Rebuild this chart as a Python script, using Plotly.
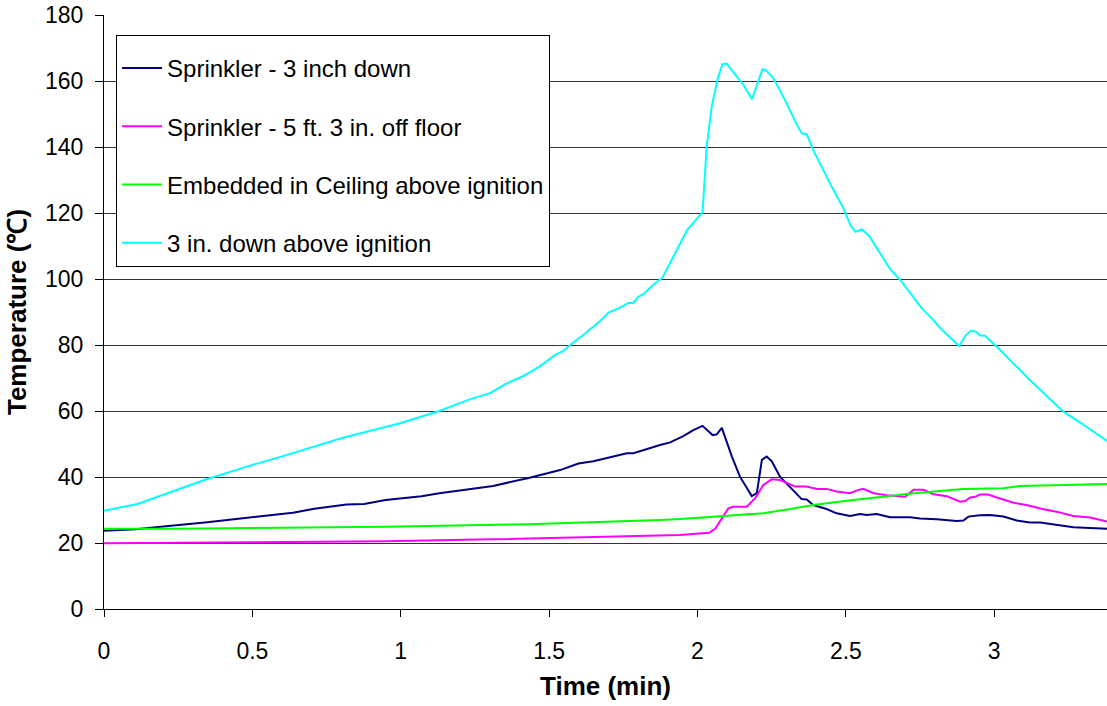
import plotly.graph_objects as go

# ---- data ----
cyan_t = [0, 0.113, 0.336, 0.486, 0.606, 0.805, 0.998, 1.13, 1.234, 1.301, 1.351, 1.413, 1.47, 1.52,
          1.548, 1.571, 1.621, 1.649, 1.672, 1.70, 1.739, 1.767, 1.784, 1.80, 1.818, 1.85, 1.882, 1.919,
          1.966, 2.017, 2.031, 2.048, 2.067, 2.084, 2.099, 2.12, 2.155, 2.184, 2.219, 2.233, 2.256, 2.295,
          2.335, 2.352, 2.368, 2.39, 2.452, 2.492, 2.516, 2.533, 2.554, 2.579, 2.615, 2.649, 2.683, 2.728,
          2.756, 2.784, 2.818, 2.851, 2.882, 2.902, 2.919, 2.936, 2.952, 2.969, 3.014, 3.12, 3.19, 3.233,
          3.29, 3.38]
cyan_v = [29.8, 31.8, 39.0, 43.3, 46.4, 51.9, 56.3, 60.0, 63.6, 65.4, 68.1, 70.6, 73.6, 77.0,
          78.2, 80.0, 83.5, 85.5, 87.3, 89.8, 91.3, 92.7, 92.7, 94.6, 95.4, 98.2, 100.4, 106.8,
          115.0, 120.2, 140.1, 152.2, 160.3, 165.1, 165.2, 162.8, 158.8, 154.5, 163.6, 163.1, 160.8, 154.2,
          146.7, 144.1, 143.9, 139.1, 128.0, 121.4, 116.2, 114.3, 115.0, 113.0, 107.8, 103.0, 99.7, 94.6,
          91.1, 88.6, 85.1, 82.3, 79.7, 82.7, 84.2, 84.2, 82.9, 82.8, 79.0, 69.4, 63.3, 59.8,
          56.5, 50.9]

navy_t = [0, 0.107, 0.191, 0.287, 0.348, 0.468, 0.564, 0.637, 0.709, 0.817, 0.877, 0.949, 1.07, 1.13,
          1.311, 1.431, 1.537, 1.599, 1.649, 1.717, 1.762, 1.784, 1.807, 1.874, 1.908, 1.952, 1.986,
          2.017, 2.051, 2.065, 2.082, 2.116, 2.143, 2.183, 2.2, 2.217, 2.233, 2.25, 2.278, 2.323, 2.351,
          2.368, 2.39, 2.435, 2.469, 2.514, 2.548, 2.57, 2.604, 2.649, 2.716, 2.75, 2.806, 2.874, 2.896,
          2.913, 2.952, 2.986, 3.031, 3.076, 3.12, 3.155, 3.21, 3.267, 3.38]
navy_v = [23.7, 24.2, 24.9, 25.7, 26.3, 27.5, 28.5, 29.2, 30.4, 31.7, 31.8, 33.0, 34.2, 35.1,
          37.3, 39.7, 42.1, 44.1, 44.8, 46.2, 47.2, 47.2, 47.9, 49.7, 50.5, 52.4, 54.2,
          55.5, 52.7, 52.9, 54.9, 46.2, 40.1, 34.2, 35.1, 45.2, 46.2, 44.8, 40.1, 36.1, 33.3,
          33.2, 31.5, 30.3, 29.0, 28.2, 28.8, 28.5, 28.8, 27.8, 27.8, 27.4, 27.2, 26.7, 26.8,
          28.0, 28.4, 28.5, 28.0, 26.8, 26.2, 26.2, 25.5, 24.8, 24.3]

mag_t = [0, 0.5, 0.949, 1.311, 1.874, 1.941, 2.04, 2.06, 2.104, 2.12, 2.166, 2.194, 2.222, 2.25,
         2.278, 2.329, 2.368, 2.402, 2.435, 2.469, 2.514, 2.542, 2.559, 2.593, 2.638, 2.672, 2.7,
         2.728, 2.762, 2.795, 2.84, 2.885, 2.902, 2.919, 2.936, 2.952, 2.98, 3.009, 3.065, 3.109,
         3.166, 3.21, 3.267, 3.323, 3.38]
mag_v = [19.9, 20.1, 20.5, 21.1, 22.3, 22.4, 23.1, 24.4, 30.5, 31.0, 31.0, 33.5, 37.6, 39.3,
         39.1, 37.1, 37.1, 36.4, 36.4, 35.6, 35.1, 36.1, 36.4, 35.1, 34.5, 34.2, 34.0,
         36.1, 36.1, 34.8, 34.2, 32.5, 32.7, 33.8, 34.0, 34.7, 34.7, 33.8, 32.2, 31.5,
         30.2, 29.5, 28.2, 27.7, 26.5]

green_t = [0, 0.227, 0.949, 1.431, 1.874, 1.941, 2.087, 2.222, 2.312, 2.39, 2.503, 2.615, 2.728,
           2.896, 3.031, 3.087, 3.38]
green_v = [24.3, 24.3, 24.9, 25.7, 27.0, 27.3, 28.2, 29.0, 30.3, 31.5, 32.8, 34.0, 35.1,
           36.4, 36.6, 37.3, 37.9]

series_names = ["Sprinkler - 3 inch down", "Sprinkler - 5 ft. 3 in. off floor",
                "Embedded in Ceiling above ignition", "3 in. down above ignition"]
series_colors = ["#000080", "#FF00FF", "#00FF00", "#00FFFF"]
series_data = [(navy_t, navy_v), (mag_t, mag_v), (green_t, green_v), (cyan_t, cyan_v)]

x_ticks = [0, 0.5, 1, 1.5, 2, 2.5, 3]
x_tick_labels = ["0", "0.5", "1", "1.5", "2", "2.5", "3"]

fig = go.Figure()
for i, (name, color, (t, v)) in enumerate(zip(series_names, series_colors, series_data)):
    fig.add_trace(go.Scatter(x=t, y=v, mode="lines", name=name, legendgroup=f"g{i}",
                             line=dict(color=color, width=2)))

fig.update_layout(
    width=1107, height=706,
    margin=dict(l=104, r=0, t=15, b=97),
    paper_bgcolor="white", plot_bgcolor="white",
    font=dict(family="Liberation Sans, Arial, sans-serif", size=23, color="black"),
    showlegend=True,
    legend=dict(x=0.012, y=0.967, xanchor="left", yanchor="top",
                bgcolor="white", bordercolor="black", borderwidth=1,
                font=dict(size=24), tracegroupgap=24,
                title=dict(text=" ", font=dict(size=8)),
                itemwidth=40),
    xaxis=dict(range=[0, 3.38], tickvals=x_ticks, ticktext=x_tick_labels,
               showgrid=False, zeroline=False, showline=True, linecolor="black", linewidth=1,
               ticks="outside", ticklen=7, tickcolor="black", ticklabelstandoff=14,
               automargin=False,
               title=dict(text="<b>Time (min)</b>", font=dict(size=26), standoff=14),
               tickfont=dict(size=23)),
    yaxis=dict(range=[0, 180], dtick=20, showgrid=True, gridcolor="#333333", gridwidth=1,
               zeroline=False, showline=True, linecolor="black", linewidth=1,
               ticks="outside", ticklen=8, tickcolor="black", ticklabelstandoff=7,
               automargin=False,
               title=dict(text="<b>Temperature (℃)</b>", font=dict(size=26), standoff=10),
               tickfont=dict(size=23)),
)

fig.write_html("out.html", config={"displayModeBar": False},
               post_script="document.body.style.margin='0';document.body.style.overflow='hidden';")
